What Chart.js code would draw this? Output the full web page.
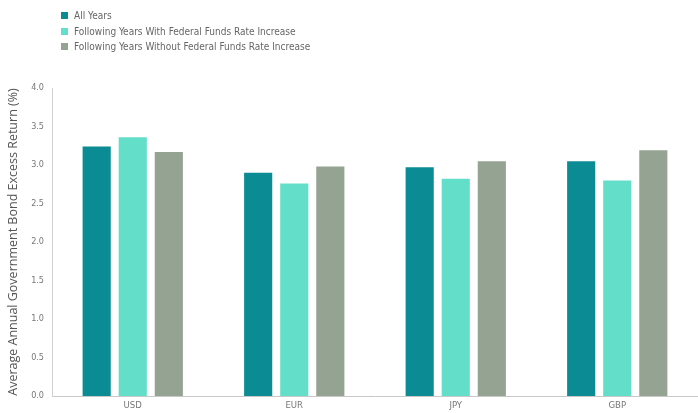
<!DOCTYPE html>
<html>
<head>
<meta charset="utf-8">
<script src="https://cdn.jsdelivr.net/npm/chart.js@4/dist/chart.umd.min.js"></script>
<style>
  html, body { margin: 0; padding: 0; background: #fff; }
  #wrap { position: relative; width: 698px; height: 413px; }
  #chart { position: absolute; left: 0; top: 0; }
  #legend {
    position: absolute; left: 61px; top: 8px;
    font-family: "Liberation Sans Narrow", "DejaVu Sans Condensed", sans-serif;
    font-size: 10px; color: #666;
  }
  #legend div { height: 15.5px; line-height: 15.5px; white-space: nowrap; }
  #legend span.box {
    display: inline-block; width: 7px; height: 7px; margin-right: 6px; vertical-align: 0px;
  }
</style>
</head>
<body>
<div id="wrap">
  <canvas id="chart" width="698" height="413"></canvas>
  <div id="legend"></div>
</div>
<script>
const categories = ["USD", "EUR", "JPY", "GBP"];
const seriesNames = [
  "All Years",
  "Following Years With Federal Funds Rate Increase",
  "Following Years Without Federal Funds Rate Increase",
];
const allYears = [3.24, 2.90, 2.97, 3.05];
const withIncrease = [3.36, 2.76, 2.82, 2.80];
const withoutIncrease = [3.17, 2.98, 3.05, 3.19];
const colors = ["#0b8b93", "#63dfc9", "#94a392"];

const font = "'Liberation Sans Narrow', 'DejaVu Sans Condensed', sans-serif";

const ctx = document.getElementById("chart").getContext("2d");
const chart = new Chart(ctx, {
  type: "bar",
  data: {
    labels: categories,
    datasets: [allYears, withIncrease, withoutIncrease].map((d, i) => ({
      label: seriesNames[i],
      data: d,
      backgroundColor: colors[i],
      categoryPercentage: 0.67,
      barPercentage: 0.78,
    })),
  },
  options: {
    responsive: false,
    animation: false,
    layout: { padding: { top: 88, right: 0, bottom: 0, left: 0 } },
    plugins: {
      legend: { display: false },
      tooltip: { enabled: false },
    },
    scales: {
      x: {
        grid: { display: false, drawTicks: false },
        border: { color: "#c8c8c8" },
        ticks: { color: "#777", font: { family: font, size: 9.5 }, padding: 4 },
        afterFit: (s) => { s.height = 17; },
      },
      y: {
        min: 0,
        max: 4,
        grid: { display: false, drawTicks: false },
        border: { color: "#d0d0d0" },
        ticks: {
          stepSize: 0.5,
          color: "#777",
          padding: 8,
          font: { family: font, size: 9 },
          callback: (v) => Number(v).toFixed(1),
        },
        title: {
          display: true,
          text: "Average Annual Government Bond Excess Return (%)",
          color: "#555",
          font: { family: "'Open Sans', sans-serif", size: 12.5 },
          padding: { top: 6, bottom: 0 },
        },
        afterFit: (s) => { s.width = 52; },
      },
    },
  },
});

// legend, one item per line, built from the datasets
const legend = document.getElementById("legend");
chart.data.datasets.forEach((ds) => {
  const row = document.createElement("div");
  row.innerHTML = `<span class="box" style="background:${ds.backgroundColor}"></span>${ds.label}`;
  legend.appendChild(row);
});
</script>
</body>
</html>
